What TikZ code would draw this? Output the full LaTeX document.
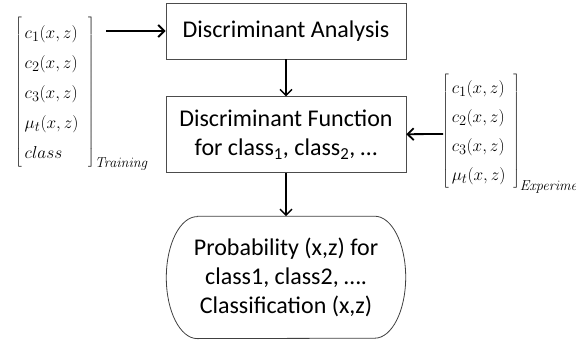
\documentclass[tikz,border=0pt]{standalone}
\usepackage[no-math]{fontspec}
\setmainfont{Carlito}
\usetikzlibrary{ arrows.meta,  % For the barb tips
                 positioning,  % For easy node-relative placements
               }
\tikzstyle{block} = [rectangle, draw=black!70, line width=0.8pt, minimum width=240pt, text centered, align=center]
\tikzstyle{outline} = [draw=black!75, line width=0.8pt]
\tikzstyle{line} = [-{Straight Barb[length=6pt,width=12pt]}, line width=1.4pt]
\tikzstyle{vector} = [inner sep=0pt, font=\fontsize{19}{22}\selectfont]

\begin{document}
\begin{tikzpicture}[x=1pt, y=1pt, font=\fontsize{24}{29}\selectfont]
  \useasboundingbox (0,0) rectangle (576,341);

  \node (ana) [block, minimum height=56pt] at (286,310) {Discriminant Analysis};
  \node (fun) [block, minimum height=76pt, below=37pt of ana] {Discriminant Function\\for class\textsubscript{1}, class\textsubscript{2}, …};
  \node (prob) [minimum width=239pt, minimum height=122pt, inner sep=0pt, align=center, below=43pt of fun] {Probability (x,z) for\\class1, class2, ….\\Classification (x,z)};
  \draw [outline] ([xshift=31pt]prob.north west) -- ([xshift=-31pt]prob.north east)
    arc [start angle=90, end angle=-90, x radius=31pt, y radius=61pt]
    -- ([xshift=31pt]prob.south west)
    arc [start angle=270, end angle=90, x radius=31pt, y radius=61pt] -- cycle;

  % input vectors
  \node (train) [vector, anchor=west] at (15,247) {$\renewcommand{\arraystretch}{1.36}\left[\begin{array}{@{\,}l@{\;\;}} c_1(x,z)\\ c_2(x,z)\\ c_3(x,z)\\ \mu_t(x,z)\\ class \end{array}\right]_{\mathit{Training}}$};
  \node (expt) [vector, anchor=west] at (442,208) {$\renewcommand{\arraystretch}{1.32}\left[\begin{array}{@{\,}l@{\;\,}} c_1(x,z)\\ c_2(x,z)\\ c_3(x,z)\\ \mu_t(x,z) \end{array}\right]_{\mathit{Experimental}}$};

  \coordinate (trainout) at (106,310);
  \coordinate (exptout) at (443,207);
  \draw [line, line width=2pt] (trainout) -- (ana);
  \draw [line] (ana) -- (fun);
  \draw [line] (fun) -- (prob);
  \draw [line, line width=1.8pt] (exptout) -- (fun);
\end{tikzpicture}
\end{document}
